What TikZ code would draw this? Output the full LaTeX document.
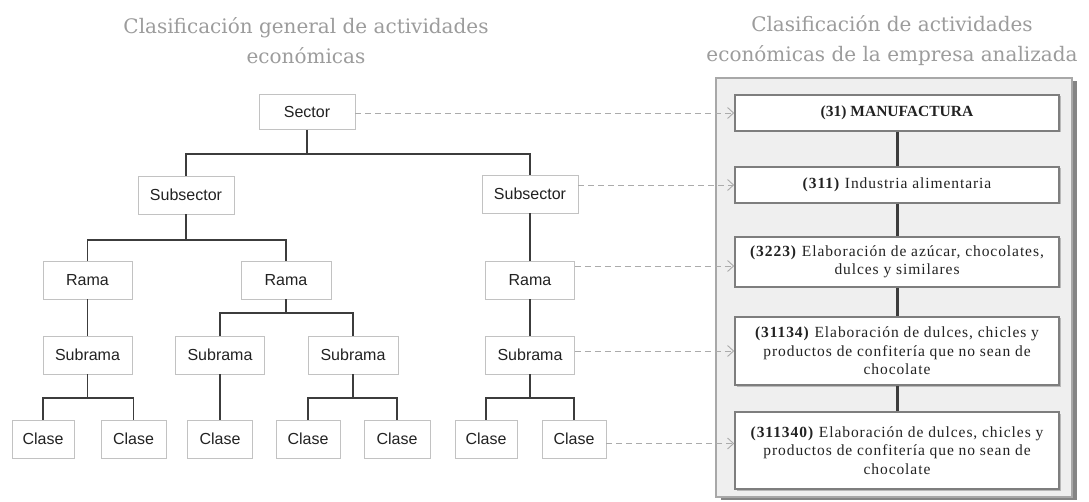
\documentclass[tikz,border=0pt]{standalone}
\usepackage{fontspec}
\setmainfont{Liberation Serif}
\newfontfamily\labelfont{Liberation Sans}
\newfontfamily\titlefont{DejaVu Serif}
\newfontfamily\codefont[LetterSpace=6]{Liberation Serif}
\usetikzlibrary{arrows.meta,shadows}

\definecolor{titlegray}{HTML}{9C9C9C}
\definecolor{inkdark}{HTML}{222222}
\definecolor{linedark}{HTML}{3C3C3C}
\definecolor{boxedge}{HTML}{C2C2C2}
\definecolor{panelfill}{HTML}{EFEFEF}
\definecolor{paneledge}{HTML}{A8A8A8}
\definecolor{panelshade}{HTML}{858585}
\definecolor{cardedge}{HTML}{7E7E7E}
\definecolor{dashgray}{HTML}{ABABAB}

\tikzset{
  title/.style={align=center, inner sep=0pt, text=titlegray,
    font=\titlefont\fontsize{20}{30}\selectfont},
  level/.style={draw=boxedge, line width=0.8pt, fill=white, inner sep=0pt,
    minimum height=38pt, text=inkdark, font=\labelfont\fontsize{16}{18}\selectfont},
  treeline/.style={draw=linedark, line width=1.8pt},
  panel/.style={draw=paneledge, line width=1.2pt, fill=panelfill,
    drop shadow={shadow xshift=5pt, shadow yshift=-3pt, fill=panelshade, opacity=1}},
  card/.style={draw=cardedge, line width=1.6pt, fill=white, inner sep=0pt,
    minimum width=324pt, align=center, text=inkdark,
    font=\codefont\fontsize{15.5}{18.5}\selectfont,
    drop shadow={shadow xshift=1.5pt, shadow yshift=-1.5pt, fill=gray!55, opacity=1}},
  spine/.style={draw=linedark, line width=3pt},
  linkarrow/.style={draw=dashgray, line width=0.9pt, dash pattern=on 6pt off 4pt,
    -{Straight Barb[length=6pt, width=11pt, line width=0.9pt]}},
}

\begin{document}
\begin{tikzpicture}[x=1pt, y=-1pt]
\useasboundingbox (0,0) rectangle (1089,502);
\fill[white] (0,0) rectangle (1089,502);

% headings
\node[title] (headL) at (306,41) {Clasificación general de actividades\\económicas};
\node[title] (headR) at (892,41) {Clasificación de actividades\\económicas de la empresa analizada};

% general hierarchy
\node[level, minimum width=96pt, minimum height=35pt] (sector) at (307,112) {Sector};
\node[level, minimum width=96pt] (subL) at (186,195) {Subsector};
\node[level, minimum width=96pt] (subR) at (530,194) {Subsector};

\node[level, minimum width=89pt] (ramaL) at (87.5,280) {Rama};
\node[level, minimum width=90pt] (ramaM) at (286,280) {Rama};
\node[level, minimum width=89pt] (ramaR) at (530,280) {Rama};

\node[level, minimum width=89pt] (subramaL)  at (87.5,355) {Subrama};
\node[level, minimum width=89pt] (subramaM1) at (220,355) {Subrama};
\node[level, minimum width=90pt] (subramaM2) at (353,355) {Subrama};
\node[level, minimum width=89pt] (subramaR)  at (530,355) {Subrama};

\node[level, minimum width=62pt] (claseA) at (43,439)    {Clase};
\node[level, minimum width=65pt] (claseB) at (133.5,439) {Clase};
\node[level, minimum width=65pt] (claseC) at (220,439)   {Clase};
\node[level, minimum width=64pt] (claseD) at (308,439)   {Clase};
\node[level, minimum width=66pt] (claseE) at (397,439)   {Clase};
\node[level, minimum width=62pt] (claseF) at (486,439)   {Clase};
\node[level, minimum width=64pt] (claseG) at (574,439)   {Clase};

% bus heights
\coordinate (busA) at (0,154);
\coordinate (busB) at (0,240);
\coordinate (busC) at (0,313);
\coordinate (busD) at (0,398);

\draw[treeline] (sector.south) -- (sector.south |- busA);
\draw[treeline] (subL.north) |- (sector.south |- busA) -| (subR.north);

\draw[treeline] (subL.south) -- (subL.south |- busB);
\draw[treeline] (ramaL.north) |- (subL.south |- busB) -| (ramaM.north);
\draw[treeline] (subR.south) -- (ramaR.north);

\draw[treeline] (ramaL.south) -- (subramaL.north);
\draw[treeline] (ramaM.south) -- (ramaM.south |- busC);
\draw[treeline] (subramaM1.north) |- (ramaM.south |- busC) -| (subramaM2.north);
\draw[treeline] (ramaR.south) -- (subramaR.north);

\draw[treeline] (subramaL.south) -- (subramaL.south |- busD);
\draw[treeline] (claseA.north) |- (subramaL.south |- busD) -| (claseB.north);
\draw[treeline] (subramaM1.south) -- (claseC.north);
\draw[treeline] (subramaM2.south) -- (subramaM2.south |- busD);
\draw[treeline] (claseD.north) |- (subramaM2.south |- busD) -| (claseE.north);
\draw[treeline] (subramaR.south) -- (subramaR.south |- busD);
\draw[treeline] (claseF.north) |- (subramaR.south |- busD) -| (claseG.north);

% company classification panel
\node[panel, minimum width=356pt, minimum height=419pt, inner sep=0pt] (frame) at (894,287.5) {};

\node[card, minimum height=36pt, font=\rmfamily\fontsize{15.5}{18}\selectfont] (c1) at (897,113)
  {\textbf{(31) MANUFACTURA}};
\node[card, minimum height=36pt] (c2) at (897,185)
  {\textbf{(311)} Industria alimentaria};
\node[card, minimum height=50pt] (c3) at (897,262)
  {\textbf{(3223)} Elaboración de azúcar, chocolates,\\dulces y similares};
\node[card, minimum height=68pt] (c4) at (897,351)
  {\textbf{(31134)} Elaboración de dulces, chicles y\\productos de confitería que no sean de\\chocolate};
\node[card, minimum height=77pt] (c5) at (897,450.5)
  {\textbf{(311340)} Elaboración de dulces, chicles y\\productos de confitería que no sean de\\chocolate};

\draw[spine] (c1.south) -- (c2.north);
\draw[spine] (c2.south) -- (c3.north);
\draw[spine] (c3.south) -- (c4.north);
\draw[spine] (c4.south) -- (c5.north);

% correspondences
\draw[linkarrow] (sector.east |- c1.west) -- (c1.west);
\draw[linkarrow] (subR.east |- c2.west) -- (c2.west);
\draw[linkarrow] ([yshift=-4pt]ramaR.east |- c3.west) -- ([yshift=-4pt]c3.west);
\draw[linkarrow] (subramaR.east |- c4.west) -- (c4.west);
\draw[linkarrow] ([yshift=7pt]claseG.east |- c5.west) -- ([yshift=7pt]c5.west);
\end{tikzpicture}
\end{document}
